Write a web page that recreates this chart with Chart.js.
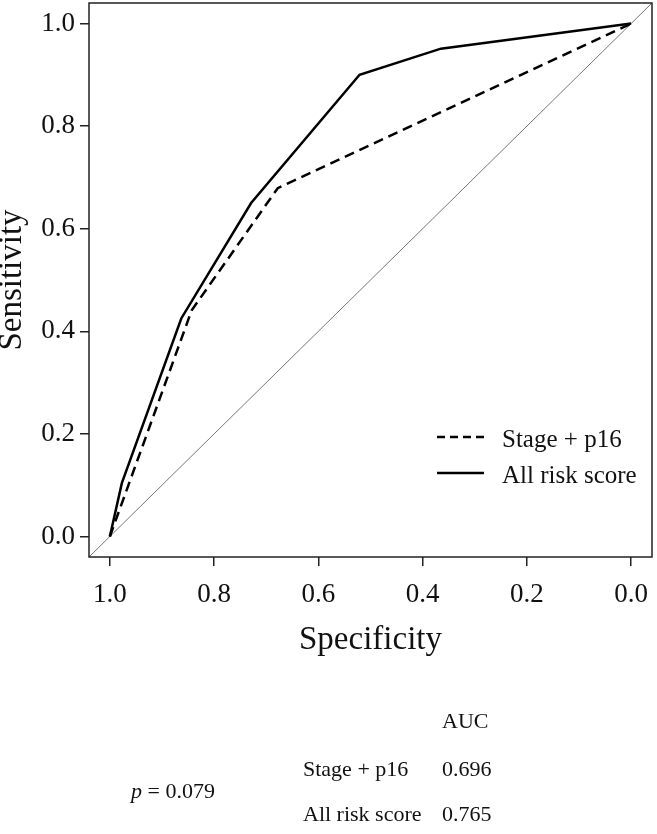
<!DOCTYPE html>
<html>
<head>
<meta charset="utf-8">
<script src="https://cdn.jsdelivr.net/npm/chart.js@4.4.0/dist/chart.umd.min.js"></script>
<style>
  html, body { margin: 0; padding: 0; background: #fff; }
  #wrap { position: relative; width: 657px; height: 834px; }
  #rocChart { position: absolute; left: 0; top: 0; }
  .note { position: absolute; font-family: "Liberation Serif", "Times New Roman", serif;
          font-size: 22px; line-height: 22px; color: #111; white-space: nowrap; }
</style>
</head>
<body>
<div id="wrap">
  <canvas id="rocChart" width="657" height="834"></canvas>
  <div class="note" style="left:442px; top:710px;">AUC</div>
  <div class="note" style="left:303px; top:758px;">Stage + p16</div>
  <div class="note" style="left:442px; top:758px;">0.696</div>
  <div class="note" style="left:303px; top:803px;">All risk score</div>
  <div class="note" style="left:442px; top:803px;">0.765</div>
  <div class="note" style="left:131px; top:780px;"><i>p</i> = 0.079</div>
</div>
<script>
// Кривые ROC
const seriesNames = ["Stage + p16", "All risk score"];
const stageSpec = [1.0, 0.843, 0.678, 0.0];
const stageSens = [0.0, 0.441, 0.679, 1.0];
const allRiskSpec = [1.0, 0.977, 0.863, 0.729, 0.521, 0.365, 0.0];
const allRiskSens = [0.0, 0.104, 0.425, 0.650, 0.900, 0.951, 1.0];

// Диагональ от угла до угла
const diagSpec = [1.04, -0.04];
const diagSens = [-0.04, 1.04];

// Деления осей
const xTickValues = [0.0, 0.2, 0.4, 0.6, 0.8, 1.0];
const xTickLabels = ["0.0", "0.2", "0.4", "0.6", "0.8", "1.0"];
const yTickValues = [0.0, 0.2, 0.4, 0.6, 0.8, 1.0];
const yTickLabels = ["0.0", "0.2", "0.4", "0.6", "0.8", "1.0"];

const toPoints = (xs, ys) => xs.map((x, i) => ({ x: x, y: ys[i] }));
const serif = "'Liberation Serif', 'Times New Roman', serif";

// Рамка вокруг области графика и легенда
const framePlugin = {
    id: "frame",
    afterDraw(chart) {
        const { ctx, chartArea: a } = chart;
        ctx.save();
        ctx.strokeStyle = "#222";
        ctx.lineWidth = 1.5;
        ctx.strokeRect(a.left, a.top, a.right - a.left, a.bottom - a.top);

        // легенда
        const lx0 = a.right - 215, lx1 = a.right - 168, tx = a.right - 150;
        const rows = [
            { y: a.bottom - 120, dash: [8, 5], text: seriesNames[0] },
            { y: a.bottom - 84, dash: [], text: seriesNames[1] },
        ];
        ctx.strokeStyle = "#000";
        ctx.lineWidth = 2.5;
        ctx.fillStyle = "#111";
        ctx.font = "25px " + serif;
        ctx.textBaseline = "alphabetic";
        rows.forEach((r) => {
            ctx.setLineDash(r.dash);
            ctx.beginPath();
            ctx.moveTo(lx0, r.y);
            ctx.lineTo(lx1, r.y);
            ctx.stroke();
            ctx.fillText(r.text, tx, r.y + 10);
        });
        ctx.restore();
    },
};

const ctx = document.getElementById("rocChart").getContext("2d");
new Chart(ctx, {
    type: "scatter",
    data: {
        datasets: [
            {
                label: "diag",
                data: toPoints(diagSpec, diagSens),
                showLine: true,
                borderColor: "#777",
                borderWidth: 1,
                pointRadius: 0,
                order: 3,
            },
            {
                label: seriesNames[0],
                data: toPoints(stageSpec, stageSens),
                showLine: true,
                borderColor: "#000",
                borderWidth: 2.5,
                borderDash: [10, 6],
                pointRadius: 0,
                order: 2,
            },
            {
                label: seriesNames[1],
                data: toPoints(allRiskSpec, allRiskSens),
                showLine: true,
                borderColor: "#000",
                borderWidth: 2.5,
                pointRadius: 0,
                order: 1,
            },
        ],
    },
    options: {
        responsive: false,
        animation: false,
        layout: { padding: { top: 3, right: 5, left: 0, bottom: 181 } },
        plugins: {
            legend: { display: false },
            tooltip: { enabled: false },
        },
        scales: {
            x: {
                type: "linear",
                reverse: true,
                min: -0.04,
                max: 1.04,
                afterBuildTicks: (s) => { s.ticks = xTickValues.map((v) => ({ value: v })); },
                afterFit: (s) => { s.height = 96; s.paddingLeft = 0; s.paddingRight = 0; },
                grid: { drawOnChartArea: false, drawTicks: true, tickLength: 9, color: "#222", lineWidth: 1.5 },
                border: { display: false },
                ticks: {
                    callback: (v, i) => xTickLabels[i],
                    font: { family: serif, size: 27 },
                    color: "#111",
                    padding: 13,
                    maxRotation: 0,
                    autoSkip: false,
                },
                title: {
                    display: true,
                    text: "Specificity",
                    font: { family: serif, size: 33, lineHeight: 0.75 },
                    color: "#111",
                    padding: 0,
                },
            },
            y: {
                type: "linear",
                min: -0.04,
                max: 1.04,
                afterBuildTicks: (s) => { s.ticks = yTickValues.map((v) => ({ value: v })); },
                afterFit: (s) => { s.width = 89; s.paddingTop = 0; s.paddingBottom = 0; },
                grid: { drawOnChartArea: false, drawTicks: true, tickLength: 9, color: "#222", lineWidth: 1.5 },
                border: { display: false },
                ticks: {
                    callback: (v, i) => yTickLabels[i],
                    font: { family: serif, size: 27 },
                    color: "#111",
                    padding: 5,
                    autoSkip: false,
                },
                title: {
                    display: true,
                    text: "Sensitivity",
                    font: { family: serif, size: 33, lineHeight: 0.75 },
                    color: "#111",
                    padding: 0,
                },
            },
        },
    },
    plugins: [framePlugin],
});
</script>
</body>
</html>
